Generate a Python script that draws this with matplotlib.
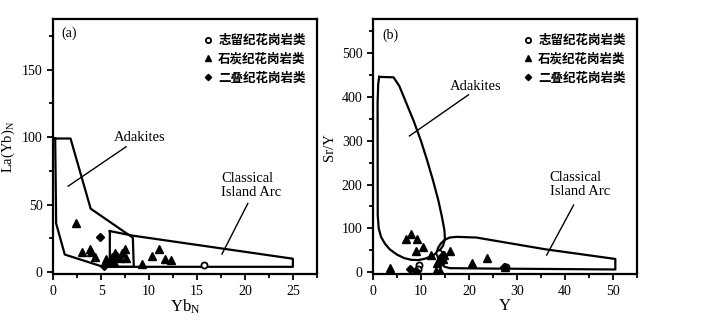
import matplotlib.pyplot as plt
from matplotlib.ticker import MultipleLocator
from matplotlib.lines import Line2D

plt.rcParams['font.family'] = ['Liberation Serif', 'Noto Sans CJK SC']
plt.rcParams['mathtext.fontset'] = 'stix'

legend_labels = ['志留纪花岗岩类', '石炭纪花岗岩类', '二叠纪花岗岩类']

# panel (a): Yb_N vs La/Yb_N
a_sil_x = [15.7]
a_sil_y = [5.5]
a_car_x = [2.35, 3.0, 3.8, 3.9, 4.35, 5.55, 5.9, 6.1, 6.3, 6.4, 6.6, 6.95, 7.2, 7.5, 7.55,
           9.3, 10.25, 11.0, 11.7, 12.3]
a_car_y = [36.5, 14.8, 16.8, 15.0, 11.4, 9.6, 8.4, 11.4, 7.7, 13.9, 11.9, 10.2, 13.9, 17.4, 10.7,
           5.7, 11.9, 17.2, 10.0, 9.2]
a_per_x = [4.9, 5.3, 6.0]
a_per_y = [25.7, 4.2, 6.5]
a_adakite_x = [0.2, 1.8, 3.9, 8.3, 8.4, 5.2, 1.2, 0.3, 0.2]
a_adakite_y = [99, 99, 47, 25.5, 3.9, 3.9, 13, 36, 99]
a_arc_x = [5.9, 8.3, 25.0, 25.0, 5.9, 5.9]
a_arc_y = [30.4, 27.0, 9.9, 3.9, 3.9, 30.4]

# panel (b): Y vs Sr/Y
b_sil_x = [9.6, 9.3, 13.8, 27.8]
b_sil_y = [16, 6, 44, 12]
b_car_x = [3.6, 6.8, 7.9, 9.2, 10.4, 9.0, 12.1, 13.3, 13.9, 14.6, 14.9, 16.1, 20.7, 23.8, 27.5,
           13.1, 13.9]
b_car_y = [10, 76, 86, 75, 58, 49, 40, 21, 28, 31, 39, 49, 21, 33, 12, 3, 3]
b_per_x = [7.8, 9.0, 14.6, 14.3, 27.4]
b_per_y = [7, 3, 38, 27, 11]
b_adakite_x = [1.3, 4.3, 5.5, 7.0, 8.5, 10.0, 11.3, 12.5, 13.6, 14.4, 14.9, 15.0, 14.6, 13.8,
               12.5, 11.0, 9.5, 8.0, 6.5, 5.0, 3.5, 2.5, 1.7, 1.2, 1.0, 0.97, 1.1, 1.3]
b_adakite_y = [446, 445, 425, 385, 345, 300, 255, 210, 165, 125, 95, 75, 60, 48,
               38, 31, 27.5, 28, 32, 40, 52, 65, 80, 100, 130, 386, 430, 446]
b_arc_x = [13.3, 13.6, 14.2, 15.0, 16.0, 17.5, 21.5, 36.0, 50.5, 50.5, 25.0, 16.0, 15.0, 14.2,
           13.6, 13.3]
b_arc_y = [45, 56, 66, 74, 79, 80.5, 79, 52, 30, 6, 8, 9, 12, 18, 30, 45]

fig = plt.figure(figsize=(7.01, 3.24), dpi=100)
ax1 = fig.add_axes([0.076, 0.154, 0.376, 0.787])
ax2 = fig.add_axes([0.532, 0.154, 0.3766, 0.787])

ms = 4.4
def draw_points(ax, sil, car, per):
    ax.plot(sil[0], sil[1], 'o', ms=ms, mfc='white', mec='black', mew=1.3, ls='none')
    ax.plot(car[0], car[1], '^', ms=ms + 0.8, color='black', ls='none')
    ax.plot(per[0], per[1], 'D', ms=ms - 0.8, color='black', ls='none')

def style(ax):
    for s in ax.spines.values():
        s.set_linewidth(1.6)
    ax.tick_params(which='both', direction='out', width=1.3, labelsize=10)
    ax.tick_params(which='major', length=4)
    ax.tick_params(which='minor', length=3)
    handles = [Line2D([], [], marker='o', ms=ms - 0.6, mfc='white', mec='black', mew=1.3, ls='none'),
               Line2D([], [], marker='^', ms=ms, color='black', ls='none'),
               Line2D([], [], marker='D', ms=ms - 1.2, color='black', ls='none')]
    ax.legend(handles, legend_labels, loc='upper right', bbox_to_anchor=(1.0, 0.985),
              frameon=False, handletextpad=0.3, handlelength=1.0, labelspacing=0.45,
              prop={'family': ['Noto Sans CJK SC'], 'size': 9, 'weight': 'bold'})

# (a)
ax1.plot(a_adakite_x, a_adakite_y, color='black', lw=1.6)
ax1.plot(a_arc_x, a_arc_y, color='black', lw=1.6)
draw_points(ax1, (a_sil_x, a_sil_y), (a_car_x, a_car_y), (a_per_x, a_per_y))
ax1.set_xlim(0, 27.5)
ax1.set_ylim(-1.5, 187.5)
ax1.xaxis.set_major_locator(MultipleLocator(5))
ax1.xaxis.set_minor_locator(MultipleLocator(2.5))
ax1.yaxis.set_major_locator(MultipleLocator(50))
ax1.yaxis.set_minor_locator(MultipleLocator(25))
ax1.set_xlabel(r'Yb$_\mathregular{N}$', fontsize=12, labelpad=0)
ax1.set_ylabel(r'La(Yb)$_\mathregular{N}$', fontsize=10.5)
ax1.text(0.8, 177, '(a)', fontsize=10, va='center')
ax1.text(9.0, 99.5, 'Adakites', fontsize=10.5, ha='center', va='center')
ax1.plot([7.6, 1.56], [92.9, 63.7], color='black', lw=1.0)
ax1.text(17.5, 64, 'Classical\nIsland Arc', fontsize=10.5, ha='left', va='center',
         linespacing=1.1)
ax1.plot([20.3, 17.6], [50.9, 13.3], color='black', lw=1.0)
style(ax1)

# (b)
ax2.plot(b_adakite_x, b_adakite_y, color='black', lw=1.6)
ax2.plot(b_arc_x, b_arc_y, color='black', lw=1.6)
draw_points(ax2, (b_sil_x, b_sil_y), (b_car_x, b_car_y), (b_per_x, b_per_y))
ax2.set_xlim(0, 55)
ax2.set_ylim(-4.6, 578)
ax2.xaxis.set_major_locator(MultipleLocator(10))
ax2.xaxis.set_minor_locator(MultipleLocator(5))
ax2.yaxis.set_major_locator(MultipleLocator(100))
ax2.yaxis.set_minor_locator(MultipleLocator(50))
ax2.set_xlabel('Y', fontsize=12, labelpad=0)
ax2.set_ylabel('Sr/Y', fontsize=10.5)
ax2.text(2.0, 542, '(b)', fontsize=10, va='center')
ax2.text(21.5, 423, 'Adakites', fontsize=10.5, ha='center', va='center')
ax2.plot([19.9, 7.6], [405, 311], color='black', lw=1.0)
ax2.text(36.8, 200, 'Classical\nIsland Arc', fontsize=10.5, ha='left', va='center',
         linespacing=1.1)
ax2.plot([41.8, 36.2], [153, 39], color='black', lw=1.0)
style(ax2)

fig.savefig('out.png', dpi=100)
